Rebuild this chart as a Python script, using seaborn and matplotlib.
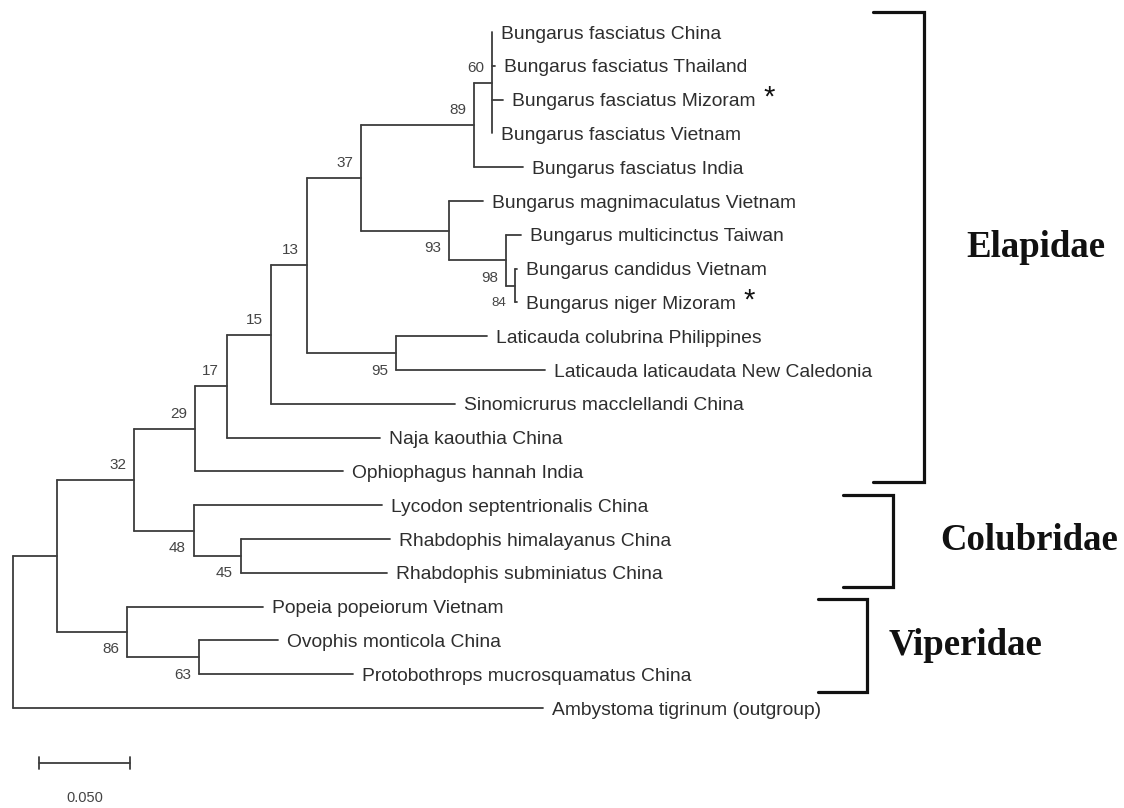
import matplotlib
matplotlib.use("Agg")
import matplotlib.pyplot as plt
import seaborn as sns
import pandas as pd

# ---------------------------------------------------------------- data
taxa = [
    "Bungarus fasciatus China",
    "Bungarus fasciatus Thailand",
    "Bungarus fasciatus Mizoram",
    "Bungarus fasciatus Vietnam",
    "Bungarus fasciatus India",
    "Bungarus magnimaculatus Vietnam",
    "Bungarus multicinctus Taiwan",
    "Bungarus candidus Vietnam",
    "Bungarus niger Mizoram",
    "Laticauda colubrina Philippines",
    "Laticauda laticaudata New Caledonia",
    "Sinomicrurus macclellandi China",
    "Naja kaouthia China",
    "Ophiophagus hannah India",
    "Lycodon septentrionalis China",
    "Rhabdophis himalayanus China",
    "Rhabdophis subminiatus China",
    "Popeia popeiorum Vietnam",
    "Ovophis monticola China",
    "Protobothrops mucrosquamatus China",
    "Ambystoma tigrinum (outgroup)",
]
# distance of each tip from the root (substitutions per site)
taxon_depth = [
    0.2632, 0.2648, 0.2692, 0.2632, 0.2802,
    0.2582, 0.2791, 0.2769, 0.2769,
    0.2604, 0.2923, 0.2429, 0.2016, 0.1813,
    0.2027, 0.2071, 0.2055,
    0.1374, 0.1456, 0.1868,
    0.2912,
]
starred = ["Bungarus fasciatus Mizoram", "Bungarus niger Mizoram"]

# internal nodes: children are tip indices or other node ids
clade_ids = ["n60", "n89", "n84", "n98", "n93", "n37", "n95", "n13", "n15",
             "n17", "n29", "n45", "n48", "n32", "n63", "n86", "nA", "root"]
clade_children = [
    [0, 1, 2, 3], ["n60", 4], [7, 8], [6, "n84"], [5, "n98"], ["n89", "n93"],
    [9, 10], ["n37", "n95"], ["n13", 11], ["n15", 12], ["n17", 13], [15, 16],
    [14, "n45"], ["n29", "n48"], [18, 19], [17, "n63"], ["n32", "n86"],
    ["nA", 20],
]
clade_depth = [0.2632, 0.2533, 0.2758, 0.2709, 0.2396, 0.1912, 0.2104, 0.1615,
               0.1418, 0.1176, 0.1000, 0.1253, 0.0995, 0.0665, 0.1022, 0.0626,
               0.0242, 0.0]
clade_support = [60, 89, 84, 98, 93, 37, 95, 13, 15, 17, 29, 45, 48, 32, 63,
                 86, None, None]

families = ["Elapidae", "Colubridae", "Viperidae"]
family_first = [0, 14, 17]
family_last = [13, 16, 19]

scale_length = 0.05

# ---------------------------------------------------------------- layout
W, H = 1124, 808
PX_PER_UNIT = 1820.0      # horizontal pixels per substitution unit
X0_PX = 13.0              # root position
ROW0_PX, ROW_PX = 32.0, 33.8

TREE_COLOR = "#3d3d3d"
TEXT_COLOR = "#2e2e2e"
SUPPORT_COLOR = "#444444"

support_below = {"n93", "n98", "n84", "n95", "n48", "n45", "n86", "n63"}
support_small = {"n84"}

bracket_pad = {"Elapidae": (20, 11), "Colubridae": (10, 14), "Viperidae": (8, 18)}
bracket_left = {"Elapidae": 873, "Colubridae": 843, "Viperidae": 818}
bracket_right = {"Elapidae": 924, "Colubridae": 893, "Viperidae": 867}
family_label_x = {"Elapidae": 966, "Colubridae": 940, "Viperidae": 889}

sns.set_theme(style="white")
plt.rcParams["font.family"] = ["Liberation Sans", "DejaVu Sans"]

# ---------------------------------------------------------------- geometry
pos = {i: (d, float(i)) for i, d in enumerate(taxon_depth)}
children_of = dict(zip(clade_ids, clade_children))
depth_of = dict(zip(clade_ids, clade_depth))


def place(node):
    if node in pos:
        return pos[node]
    kids = [place(c) for c in children_of[node]]
    pos[node] = (depth_of[node], (kids[0][1] + kids[-1][1]) / 2.0)
    return pos[node]


place("root")

rows = []
seg = 0
for cid in clade_ids:
    cx, _ = pos[cid]
    kids = [pos[c] for c in children_of[cid]]
    rows += [dict(seg=seg, x=cx, y=kids[0][1]), dict(seg=seg, x=cx, y=kids[-1][1])]
    seg += 1
    for kx, ky in kids:
        rows += [dict(seg=seg, x=cx, y=ky), dict(seg=seg, x=kx, y=ky)]
        seg += 1
branches = pd.DataFrame(rows)

# ---------------------------------------------------------------- figure
fig = plt.figure(figsize=(W / 100, H / 100), dpi=100)
ax = fig.add_axes([0, 0, 1, 1])

sns.lineplot(data=branches, x="x", y="y", units="seg", estimator=None,
             sort=False, color=TREE_COLOR, linewidth=1.3, ax=ax, legend=False)

ax.set_xlim(-X0_PX / PX_PER_UNIT, (W - X0_PX) / PX_PER_UNIT)
ax.set_ylim((H - ROW0_PX) / ROW_PX, -ROW0_PX / ROW_PX)
ax.axis("off")

PT = 100 / 72.0  # pixels per point

# tip labels
for i, name in enumerate(taxa):
    x, y = pos[i]
    t = ax.annotate(name, xy=(x, y), xytext=(6.3, -1.5), textcoords="offset points",
                    ha="left", va="center", fontsize=13.9, color=TEXT_COLOR)
    if name in starred:
        ax.annotate("*", xy=(1, 1), xycoords=t, xytext=(6, 7),
                    textcoords="offset points", ha="left", va="top",
                    fontsize=21, color="#111111")

# bootstrap support
for cid, sup in zip(clade_ids, clade_support):
    if sup is None:
        continue
    x, y = pos[cid]
    dy = -17.5 / PT if cid in support_below else 15 / PT
    ax.annotate(str(sup), xy=(x, y), xytext=(-16.5 / PT, dy),
                textcoords="offset points", ha="center", va="center",
                fontsize=9.5 if cid in support_small else 11,
                color=SUPPORT_COLOR)

# scale bar
sb_x0 = (39 - X0_PX) / PX_PER_UNIT
sb_y = (763 - ROW0_PX) / ROW_PX
tick = 6 / ROW_PX
ax.plot([sb_x0, sb_x0 + scale_length], [sb_y, sb_y], color=TREE_COLOR, lw=1.3)
for xx in (sb_x0, sb_x0 + scale_length):
    ax.plot([xx, xx], [sb_y - tick, sb_y + tick], color=TREE_COLOR, lw=1.3)
ax.text(sb_x0 + scale_length / 2, (798 - ROW0_PX) / ROW_PX, f"{scale_length:.3f}",
        ha="center", va="center", fontsize=10.5, color=SUPPORT_COLOR)

# family brackets, drawn in pixel space
ov = fig.add_axes([0, 0, 1, 1], facecolor="none")
ov.set_xlim(0, W)
ov.set_ylim(H, 0)
ov.axis("off")
for fam, a, b in zip(families, family_first, family_last):
    top = ROW0_PX + ROW_PX * a - bracket_pad[fam][0]
    bot = ROW0_PX + ROW_PX * b + bracket_pad[fam][1]
    l, r = bracket_left[fam], bracket_right[fam]
    ov.plot([l, r, r, l], [top, top, bot, bot], color="#111111", lw=2.3,
             solid_joinstyle="miter")
    ov.text(family_label_x[fam], (top + bot) / 2, fam, ha="left", va="center",
            fontsize=26.5, fontweight="bold", family=["Liberation Serif"],
            color="#111111")

fig.savefig("out.png", dpi=100)
